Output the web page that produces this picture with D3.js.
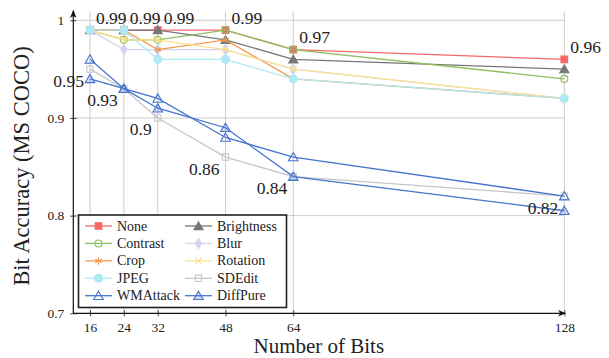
<!DOCTYPE html>
<html>
<head>
<meta charset="utf-8">
<title>bit accuracy vs number of bits</title>
<script src="https://d3js.org/d3.v7.min.js"></script>
<style>
    body { margin: 0; background: #fff; }
    svg text { font-family: "Liberation Serif", "DejaVu Serif", serif; fill: #222; }
</style>
</head>
<body>
<svg class="chart"></svg>
<script>
    // number of bits (x categories) and y tick labels
    var bits = [16, 24, 32, 48, 64, 128];
    var yTicks = [0.7, 0.8, 0.9, 1];

    // bit accuracy for each attack, one value per bit length
    var none       = [0.99, 0.99, 0.99, 0.99, 0.97, 0.96];
    var brightness = [0.99, 0.99, 0.99, 0.98, 0.96, 0.95];
    var contrast   = [0.99, 0.98, 0.98, 0.99, 0.97, 0.94];
    var blur       = [0.99, 0.97, 0.97, 0.97, 0.95, 0.92];
    var crop       = [0.99, 0.99, 0.97, 0.98, 0.94, 0.92];
    var rotation   = [0.99, 0.98, 0.98, 0.97, 0.95, 0.92];
    var jpeg       = [0.99, 0.99, 0.96, 0.96, 0.94, 0.92];
    var sdedit     = [0.95, 0.93, 0.90, 0.86, 0.84, 0.82];
    var wmattack   = [0.96, 0.93, 0.92, 0.88, 0.86, 0.82];
    var diffpure   = [0.94, 0.93, 0.91, 0.89, 0.84, 0.805];

    var width = 609, height = 358;
    var serif = "'Liberation Serif', 'DejaVu Serif', serif";

    var series = [
        { name: "None",       values: none,       color: "#f76767", sym: d3.symbolSquare,   size: 44, fill: "#f76767" },
        { name: "Brightness", values: brightness, color: "#777777", sym: d3.symbolTriangle, size: 36, fill: "#777777" },
        { name: "Contrast",   values: contrast,   color: "#8cbf5f", sym: d3.symbolCircle,   size: 38, fill: "none" },
        { name: "Blur",       values: blur,       color: "#d4d4f2", sym: d3.symbolDiamond,  size: 32, fill: "#d4d4f2" },
        { name: "Crop",       values: crop,       color: "#f39a4f", sym: d3.symbolAsterisk, size: 40, fill: "none" },
        { name: "Rotation",   values: rotation,   color: "#fde08e", sym: d3.symbolTimes,    size: 34, fill: "none" },
        { name: "JPEG",       values: jpeg,       color: "#aeeaf3", sym: d3.symbolCircle,   size: 50, fill: "#aeeaf3" },
        { name: "SDEdit",     values: sdedit,     color: "#c6c6c6", sym: d3.symbolSquare,   size: 40, fill: "none" },
        { name: "WMAttack",   values: wmattack,   color: "#4674cf", sym: d3.symbolTriangle, size: 40, fill: "none" },
        { name: "DiffPure",   values: diffpure,   color: "#4674cf", sym: d3.symbolTriangle, size: 40, fill: "rgba(70,116,207,0.25)" }
    ];

    var svg = d3.select(".chart")
        .attr("width", width)
        .attr("height", height);

    var x = d3.scaleLinear().domain([12.06, 128]).range([73.3, 564.3]);
    var y = d3.scaleLinear().domain([0.7, 1.0088]).range([313.3, 11.7]);

    // arrow heads for the axis lines
    var defs = svg.append("defs");
    defs.append("marker")
        .attr("id", "arrow")
        .attr("viewBox", "0 0 10 10")
        .attr("refX", 9).attr("refY", 5)
        .attr("markerWidth", 7).attr("markerHeight", 7)
        .attr("orient", "auto")
        .append("path")
        .attr("d", "M0,1 Q5,5 0,9 L10,5 Z")
        .attr("fill", "#111");

    //grid
    var grid = svg.append("g").attr("class", "grid");
    grid.selectAll(".vgrid")
        .data(bits)
        .enter().append("line")
        .attr("x1", function(d) { return x(d); })
        .attr("x2", function(d) { return x(d); })
        .attr("y1", y.range()[0])
        .attr("y2", y.range()[1])
        .attr("stroke", "#cccccc")
        .attr("stroke-width", 1);
    grid.selectAll(".hgrid")
        .data(yTicks.slice(1))
        .enter().append("line")
        .attr("x1", x.range()[0])
        .attr("x2", x.range()[1])
        .attr("y1", function(d) { return y(d); })
        .attr("y2", function(d) { return y(d); })
        .attr("stroke", "#cccccc")
        .attr("stroke-width", 1);

    //axes
    var xAxis = d3.axisBottom(x).tickValues(bits).tickSize(3).tickSizeOuter(0).tickFormat(d3.format("d"));
    var yAxis = d3.axisLeft(y).tickValues(yTicks).tickSize(3).tickSizeOuter(0)
        .tickFormat(function(d) { return d === 1 ? "1" : d3.format(".1f")(d); });

    var gx = svg.append("g")
        .attr("transform", "translate(0," + y(0.7) + ")")
        .call(xAxis);
    gx.attr("font-family", null);
    gx.select(".domain").remove();
    gx.selectAll(".tick line").attr("y1", -3).attr("stroke", "#444");
    gx.selectAll(".tick text")
        .attr("y", 9)
        .attr("fill", "#222")
        .style("font-size", "13.5px")
        .style("font-family", serif);

    var gy = svg.append("g")
        .attr("transform", "translate(" + x(12.06) + ",0)")
        .call(yAxis);
    gy.attr("font-family", null);
    gy.select(".domain").remove();
    gy.selectAll(".tick line").attr("x1", 3).attr("stroke", "#444");
    gy.selectAll(".tick text")
        .attr("x", -9)
        .attr("fill", "#222")
        .style("font-size", "13.5px")
        .style("font-family", serif);

    svg.append("line")
        .attr("x1", x.range()[0]).attr("x2", x.range()[1] + 1)
        .attr("y1", y(0.7)).attr("y2", y(0.7))
        .attr("stroke", "#111").attr("stroke-width", 1.2)
        .attr("marker-end", "url(#arrow)");
    svg.append("line")
        .attr("x1", x.range()[0]).attr("x2", x.range()[0])
        .attr("y1", y(0.7)).attr("y2", y.range()[1] - 1)
        .attr("stroke", "#111").attr("stroke-width", 1.2)
        .attr("marker-end", "url(#arrow)");

    //series lines + markers
    var line = d3.line()
        .x(function(d, i) { return x(bits[i]); })
        .y(function(d) { return y(d); });

    var plot = svg.append("g").attr("class", "plot");
    series.forEach(function(s) {
        var g = plot.append("g");
        g.append("path")
            .datum(s.values)
            .attr("d", line)
            .attr("fill", "none")
            .attr("stroke", s.color)
            .attr("stroke-width", 1.3);
        g.selectAll(".pt")
            .data(s.values)
            .enter().append("path")
            .attr("transform", function(d, i) {
                var dy = (s.sym === d3.symbolTriangle) ? 1 : 0;
                return "translate(" + x(bits[i]) + "," + (y(d) + dy) + ")";
            })
            .attr("d", d3.symbol().type(s.sym).size(s.size))
            .attr("fill", s.fill)
            .attr("stroke", s.color)
            .attr("stroke-width", 1.1);
    });

    // value labels: None above right, SDEdit below left
    svg.append("g").selectAll("text")
        .data(none)
        .enter().append("text")
        .attr("x", function(d, i) { return x(bits[i]) + 6; })
        .attr("y", function(d) { return y(d) - 6.5; })
        .style("font-family", serif)
        .style("font-size", "17.5px")
        .text(function(d) { return String(d); });

    svg.append("g").selectAll("text")
        .data(sdedit)
        .enter().append("text")
        .attr("x", function(d, i) { return x(bits[i]) - 6; })
        .attr("y", function(d) { return y(d) + 17.5; })
        .attr("text-anchor", "end")
        .style("font-family", serif)
        .style("font-size", "17.5px")
        .text(function(d) { return String(d); });

    // legend
    var legend = svg.append("g").attr("class", "legend");
    legend.append("rect")
        .attr("x", 78.5).attr("y", 215)
        .attr("width", 208).attr("height", 92.5)
        .attr("fill", "#fff")
        .attr("stroke", "#222")
        .attr("stroke-width", 1.6);

    var colX = [85, 185];
    var rowY = d3.scalePoint().domain(d3.range(5)).range([226, 295.7]);
    var items = legend.selectAll(".item")
        .data(series)
        .enter().append("g")
        .attr("transform", function(d, i) {
            return "translate(" + colX[i % 2] + "," + rowY(Math.floor(i / 2)) + ")";
        });
    items.append("line")
        .attr("x1", 0).attr("x2", 27)
        .attr("stroke", function(d) { return d.color; })
        .attr("stroke-width", 1.3);
    items.append("path")
        .attr("transform", function(d) {
            return "translate(13.5," + (d.sym === d3.symbolTriangle ? 1 : 0) + ")";
        })
        .attr("d", function(d) { return d3.symbol().type(d.sym).size(d.size)(); })
        .attr("fill", function(d) { return d.fill; })
        .attr("stroke", function(d) { return d.color; })
        .attr("stroke-width", 1.1);
    items.append("text")
        .attr("x", 32)
        .attr("dy", "0.33em")
        .style("font-family", serif)
        .style("font-size", "14px")
        .text(function(d) { return d.name; });

    // axis titles
    svg.append("text")
        .attr("x", 318.8)
        .attr("y", 353)
        .attr("text-anchor", "middle")
        .style("font-family", serif)
        .style("font-size", "21px")
        .text("Number of Bits");

    svg.append("text")
        .attr("transform", "translate(29,166) rotate(-90)")
        .attr("text-anchor", "middle")
        .style("font-family", serif)
        .style("font-size", "22.5px")
        .text("Bit Accuracy (MS COCO)");
</script>
</body>
</html>
